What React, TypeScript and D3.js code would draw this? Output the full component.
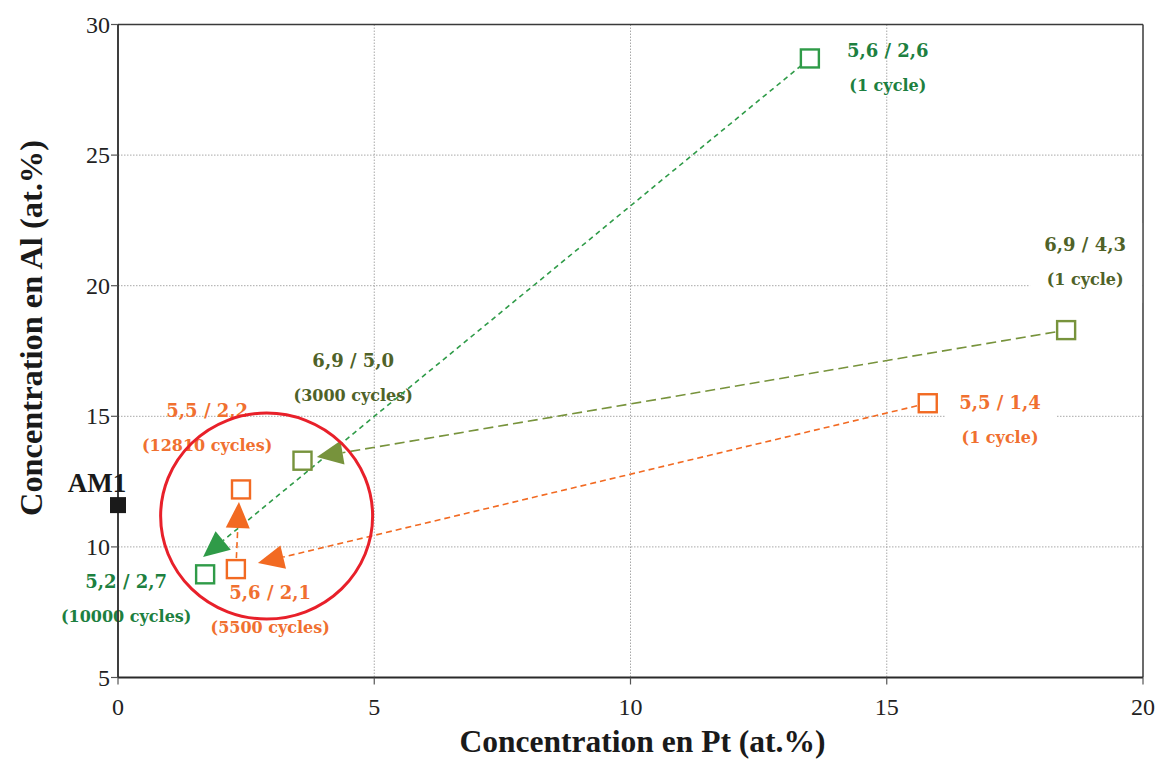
import React from "react";
import * as d3 from "d3";

// ---- data ----
const xTicks = [0, 5, 10, 15, 20];
const yTicks = [5, 10, 15, 20, 25, 30];

const am1X = [0];
const am1Y = [11.6];

const greenX = [13.5, 1.7];
const greenY = [28.7, 8.95];
const oliveX = [18.5, 3.6];
const oliveY = [18.3, 13.3];
const orangeX = [15.8, 2.3, 2.4];
const orangeY = [15.5, 9.15, 12.2];

// arrows: start point (data) -> arrow tip (data)
const arrowFromX = [13.5, 18.5, 15.8, 2.3];
const arrowFromY = [28.7, 18.3, 15.5, 9.15];
const arrowTipX = [1.66, 3.88, 2.73, 2.36];
const arrowTipY = [9.61, 13.44, 9.38, 11.72];
const arrowSeries = ["green", "olive", "orange", "orange"];

// annotation labels
const labelLine1 = ["5,6 / 2,6", "6,9 / 4,3", "6,9 / 5,0", "5,5 / 2,2", "5,5 / 1,4", "5,2 / 2,7", "5,6 / 2,1"];
const labelLine2 = ["(1 cycle)", "(1 cycle)", "(3000 cycles)", "(12810 cycles)", "(1 cycle)", "(10000 cycles)", "(5500 cycles)"];
const labelX = [15.02, 18.87, 4.59, 1.74, 17.21, 0.16, 2.97];
const labelY = [28.99, 21.56, 17.12, 15.24, 15.54, 8.66, 8.27];
const labelSeries = ["green", "olive", "olive", "orange", "orange", "green", "orange"];
const labelBg = [false, true, false, false, true, false, false];

// highlight circle (data)
const circleCX = [2.9];
const circleCY = [11.18];

const colors: Record<string, { mark: string; text: string; dash: string }> = {
  green: { mark: "#2f9b48", text: "#1d8040", dash: "5,4" },
  olive: { mark: "#77933c", text: "#4f6228", dash: "10,5" },
  orange: { mark: "#f26a22", text: "#f07030", dash: "6,4" },
};

const W = 1159;
const H = 760;
const left = 118;
const right = 1143;
const top = 24.5;
const bottom = 677.5;

export default function App() {
  const x = d3.scaleLinear().domain([0, 20]).range([left, right]);
  const y = d3.scaleLinear().domain([5, 30]).range([bottom, top]);
  const serif = "'Liberation Serif', 'Times New Roman', serif";
  const labelFont = "'DejaVu Serif', serif";
  const sq = 18;

  const square = (cx: number, cy: number, color: string, key: string) => (
    <rect key={key} x={x(cx) - sq / 2} y={y(cy) - sq / 2} width={sq} height={sq} fill="#fff" stroke={color} strokeWidth={2.4} />
  );

  return (
    <svg width={W} height={H} style={{ position: "absolute", left: 0, top: 0, background: "#fff" }} fontFamily={serif}>
      <rect x={0} y={0} width={W} height={H} fill="#fff" />
      {/* gridlines */}
      {xTicks.slice(1, -1).map((t) => (
        <line key={"gx" + t} x1={x(t)} x2={x(t)} y1={top} y2={bottom} stroke="#a8a8a8" strokeWidth={1} strokeDasharray="1.5,1.5" />
      ))}
      {yTicks.slice(1, -1).map((t) => (
        <line key={"gy" + t} x1={left} x2={right} y1={y(t)} y2={y(t)} stroke="#a8a8a8" strokeWidth={1} strokeDasharray="1.5,1.5" />
      ))}
      {/* border top/right */}
      <line x1={left} x2={right} y1={top} y2={top} stroke="#3a3a3a" strokeWidth={1.5} />
      <line x1={right} x2={right} y1={top} y2={bottom} stroke="#3a3a3a" strokeWidth={1.5} />

      {/* labels */}
      {labelLine1.map((l1, i) => {
        const c = colors[labelSeries[i]];
        const lx = x(labelX[i]);
        const ly = y(labelY[i]);
        return (
          <g key={"lab" + i} fontWeight="bold" textAnchor="middle" fill={c.text} fontFamily={labelFont}>
            {labelBg[i] && <rect x={lx - 55} y={ly - 22} width={112} height={80} fill="#fff" />}
            <text x={lx} y={ly} dominantBaseline="central" fontSize={18}>{l1}</text>
            <text x={lx} y={ly + 35} dominantBaseline="central" fontSize={16}>{labelLine2[i]}</text>
          </g>
        );
      })}

      {/* arrows */}
      {arrowFromX.map((fx, i) => {
        const c = colors[arrowSeries[i]];
        const x0 = x(fx), y0 = y(arrowFromY[i]);
        const x1 = x(arrowTipX[i]), y1 = y(arrowTipY[i]);
        const dx = x1 - x0, dy = y1 - y0;
        const len = Math.hypot(dx, dy);
        const ux = dx / len, uy = dy / len;
        const headL = 26, headW = 12;
        const sx = x0 + ux * 11, sy = y0 + uy * 11;
        const bx = x1 - ux * headL, by = y1 - uy * headL;
        const p1 = [bx - uy * headW, by + ux * headW];
        const p2 = [bx + uy * headW, by - ux * headW];
        return (
          <g key={"ar" + i}>
            <line x1={sx} y1={sy} x2={bx} y2={by} stroke={c.mark} strokeWidth={1.6} strokeDasharray={c.dash} />
            <path d={`M${x1},${y1}L${p1[0]},${p1[1]}L${p2[0]},${p2[1]}Z`} fill={c.mark} />
          </g>
        );
      })}

      {/* squares */}
      {greenX.map((v, i) => square(v, greenY[i], colors.green.mark, "g" + i))}
      {oliveX.map((v, i) => square(v, oliveY[i], colors.olive.mark, "o" + i))}
      {orangeX.map((v, i) => square(v, orangeY[i], colors.orange.mark, "r" + i))}

      {/* highlight circle */}
      {circleCX.map((cx, i) => (
        <ellipse key={"c" + i} cx={x(cx)} cy={y(circleCY[i])} rx={106} ry={103} fill="none" stroke="#e8202a" strokeWidth={3} />
      ))}

      {/* axes */}
      <line x1={left} x2={left} y1={top} y2={bottom} stroke="#2a2a2a" strokeWidth={1.8} />
      <line x1={left} x2={right} y1={bottom} y2={bottom} stroke="#2a2a2a" strokeWidth={1.8} />
      {yTicks.map((t) => (
        <g key={"yt" + t}>
          <line x1={left - 7} x2={left} y1={y(t)} y2={y(t)} stroke="#555" strokeWidth={1.2} />
          <text x={left - 8} y={y(t)} textAnchor="end" dominantBaseline="central" fontSize={24} fill="#222">{t}</text>
        </g>
      ))}
      {xTicks.map((t) => (
        <g key={"xt" + t}>
          <line x1={x(t)} x2={x(t)} y1={bottom} y2={bottom + 7} stroke="#555" strokeWidth={1.2} />
          <text x={x(t)} y={bottom + 29} textAnchor="middle" dominantBaseline="central" fontSize={24} fill="#222">{t}</text>
        </g>
      ))}

      {/* AM1 */}
      {am1X.map((v, i) => (
        <g key={"am" + i}>
          <rect x={x(v) - 8} y={y(am1Y[i]) - 8} width={16} height={16} fill="#1a1a1a" />
          <text x={x(v) - 21} y={y(am1Y[i]) - 22} textAnchor="middle" dominantBaseline="central" fontSize={27} fontWeight="bold" fill="#1a1a1a">AM1</text>
        </g>
      ))}

      {/* axis titles */}
      <text x={(left + right) / 2 + 12} y={741} textAnchor="middle" dominantBaseline="central" fontSize={32} fontWeight="bold" fill="#1a1a1a" textLength={366} lengthAdjust="spacingAndGlyphs">
        Concentration en Pt (at.%)
      </text>
      <text transform={`translate(31, 328) rotate(-90)`} textAnchor="middle" dominantBaseline="central" fontSize={32} fontWeight="bold" fill="#1a1a1a" textLength={376} lengthAdjust="spacingAndGlyphs">
        Concentration en Al (at.%)
      </text>
    </svg>
  );
}
